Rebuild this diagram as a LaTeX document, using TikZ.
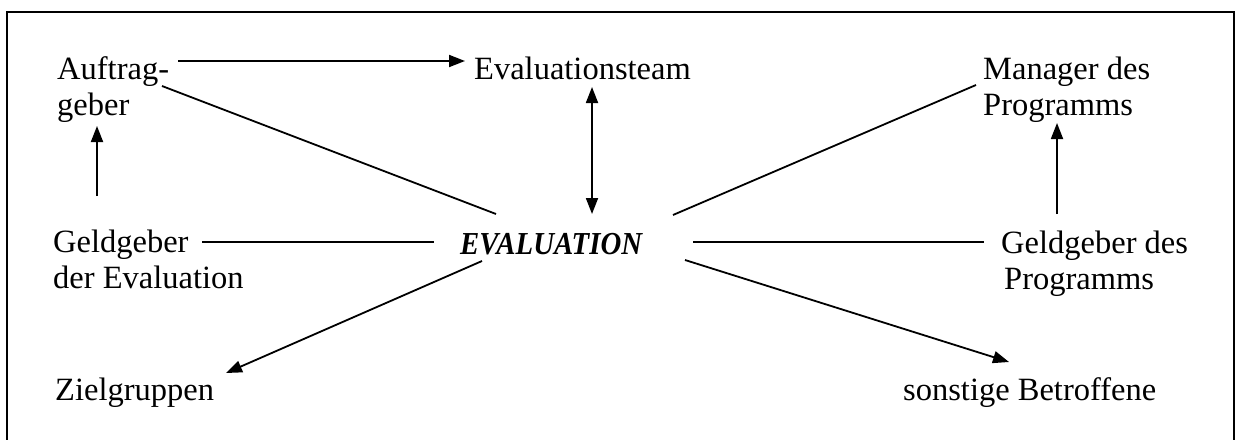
\documentclass[tikz,border=0pt]{standalone}
\usepackage{fontspec}
\setmainfont{Liberation Serif}
\usetikzlibrary{arrows.meta}
\begin{document}
\begin{tikzpicture}[x=1pt,y=-1pt,
  label/.style={anchor=base west,inner sep=0pt,align=left,
    font=\fontsize{32.5}{36}\selectfont},
  centre/.style={anchor=base west,inner sep=0pt,
    font=\fontsize{32}{36}\selectfont\bfseries\itshape},
  link/.style={line width=1.8pt},
  flow/.style={link,-{Triangle[length=16pt,width=12pt]}},
  both/.style={link,{Triangle[length=16pt,width=12pt]}-{Triangle[length=16pt,width=12pt]}}]
\useasboundingbox (0,0) rectangle (1236,439);
% frame, open at the bottom
\draw[line width=2.6pt] (7,445) -- (7,12) -- (1234,12) -- (1234,445);

% stakeholders (two-line labels are placed by the baseline of their last line)
\node[label] (auftrag) at (57,115) {Auftrag-\\geber};
\node[label] (team) at (474,79) {Evaluationsteam};
\node[label] (manager) at (983,115) {Manager des\\Programms};
\node[label] (geldeval) at (53,288) {Geldgeber\\der Evaluation};
\node[centre] (eval) at (460,254) {\scalebox{0.9}[1]{EVALUATION}};
\node[label] (geldprog) at (1001,289) {Geldgeber des\\\hspace{3pt}Programms};
\node[label] (ziel) at (55,400) {Zielgruppen};
\node[label] (sonst) at (903,400) {sonstige Betroffene};

% connector end points
\coordinate (auftrag-r) at (178,61);
\coordinate (team-l) at (465,61);
\coordinate (auftrag-d) at (162,86);
\coordinate (eval-nw) at (496,214);
\coordinate (team-s) at (592,87);
\coordinate (eval-n) at (592,214);
\coordinate (manager-l) at (976,85);
\coordinate (eval-ne) at (673,215);
\coordinate (geldeval-n) at (97,196);
\coordinate (auftrag-s) at (97,126);
\coordinate (geldeval-r) at (202,242);
\coordinate (eval-w) at (434,242);
\coordinate (eval-e) at (693,242);
\coordinate (geldprog-l) at (984,242);
\coordinate (geldprog-n) at (1057,214);
\coordinate (manager-s) at (1057,123);
\coordinate (eval-sw) at (482,261);
\coordinate (ziel-n) at (226,373);
\coordinate (eval-se) at (685,260);
\coordinate (sonst-n) at (1009,362);

% connectors
\draw[flow] (auftrag-r) -- (team-l);
\draw[link] (auftrag-d) -- (eval-nw);
\draw[both] (team-s) -- (eval-n);
\draw[link] (manager-l) -- (eval-ne);
\draw[flow] (geldeval-n) -- (auftrag-s);
\draw[link] (geldeval-r) -- (eval-w);
\draw[link] (eval-e) -- (geldprog-l);
\draw[flow] (geldprog-n) -- (manager-s);
\draw[flow] (eval-sw) -- (ziel-n);
\draw[flow] (eval-se) -- (sonst-n);
\end{tikzpicture}
\end{document}
